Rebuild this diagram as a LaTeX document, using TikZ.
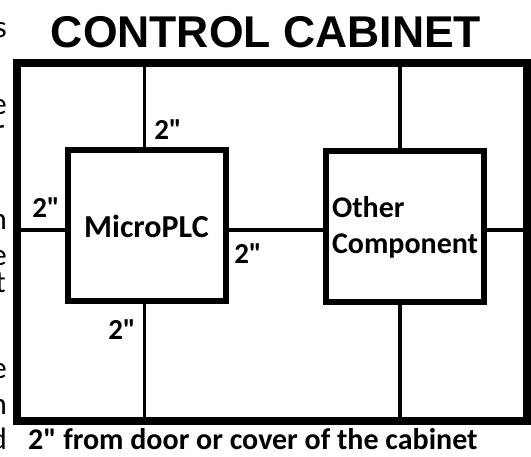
\documentclass[tikz,border=0pt]{standalone}
\usepackage{fontspec}
\setmainfont{Carlito}[Ligatures=TeXOff]
\newfontfamily\headfont{Liberation Sans}
\usetikzlibrary{positioning}

\begin{document}
\begin{tikzpicture}[
  x=1pt, y=-1pt,
  cabframe/.style={draw, line width=8pt, outer sep=0pt, minimum width=510.5pt, minimum height=358pt},
  unitbox/.style={draw, line width=6pt, outer sep=0pt, minimum width=158pt, minimum height=151pt, font=\fontsize{30}{36}\selectfont\bfseries},
  wire/.style={line width=3.5pt},
  dimlbl/.style={font=\fontsize{29}{36}\selectfont\bfseries, inner sep=0pt},
  edgechar/.style={font=\fontsize{31}{36}\selectfont, inner sep=0pt, anchor=base east},
]
\useasboundingbox (0,0) rectangle (531,457);

% Title
\node[font=\headfont\bfseries\fontsize{44.5}{50}\selectfont, anchor=base, inner sep=0pt] (title) at (266, 48) {CONTROL CABINET};

% Cabinet and the two units
\node[cabframe] (cab) at (271.75, 242) {};
\node[unitbox, font=\fontsize{32}{36}\selectfont\bfseries] (plc) at (146.5, 226) {MicroPLC};
\node[unitbox, align=left, text width=146pt, inner xsep=6pt] (other) at (405, 227) {Other\\Component};

% Clearance lines round the MicroPLC
\draw[wire] ([xshift=-2pt]plc.north) -- ([xshift=-2pt]plc.north |- cab.north);
\draw[wire] ([xshift=-2pt]plc.south) -- ([xshift=-2pt]plc.south |- cab.south);
\draw[wire] ([yshift=-4pt]plc.west) -- ([yshift=-4pt]plc.west -| cab.west);
\draw[wire] ([yshift=-4pt]plc.east) -- ([yshift=-3pt]other.west);

% Clearance lines round the other component
\draw[wire] ([xshift=-5pt]other.north) -- ([xshift=-5pt]other.north |- cab.north);
\draw[wire] ([xshift=-5pt]other.south) -- ([xshift=-5pt]other.south |- cab.south);
\draw[wire] ([yshift=-3pt]other.east) -- ([yshift=-3pt]other.east -| cab.east);

% Distances
\node[dimlbl] (dtop) at (168, 130) {2"};
\node[dimlbl] (dleft) at (46, 208) {2"};
\node[dimlbl] (dmid) at (248, 254) {2"};
\node[dimlbl] (dbot) at (122, 330) {2"};

% Note under the cabinet
\node[dimlbl, font=\fontsize{30}{36}\selectfont\bfseries, anchor=base west] (note) at (28, 450) {2" from door or cover of the cabinet};

% Cut-off letters at the left edge
\node[edgechar] (c1) at (7, 38) {s};
\node[edgechar] (c2) at (7, 115) {e};
\node[edgechar] (c3) at (5, 141) {r};
\node[edgechar] (c4) at (7, 230) {n};
\node[edgechar] (c5) at (7, 266) {e};
\node[edgechar] (c6) at (6, 293) {t};
\node[edgechar] (c7) at (7, 379) {e};
\node[edgechar] (c8) at (7, 415) {n};
\node[edgechar] (c9) at (7, 450) {d};

\end{tikzpicture}
\end{document}
